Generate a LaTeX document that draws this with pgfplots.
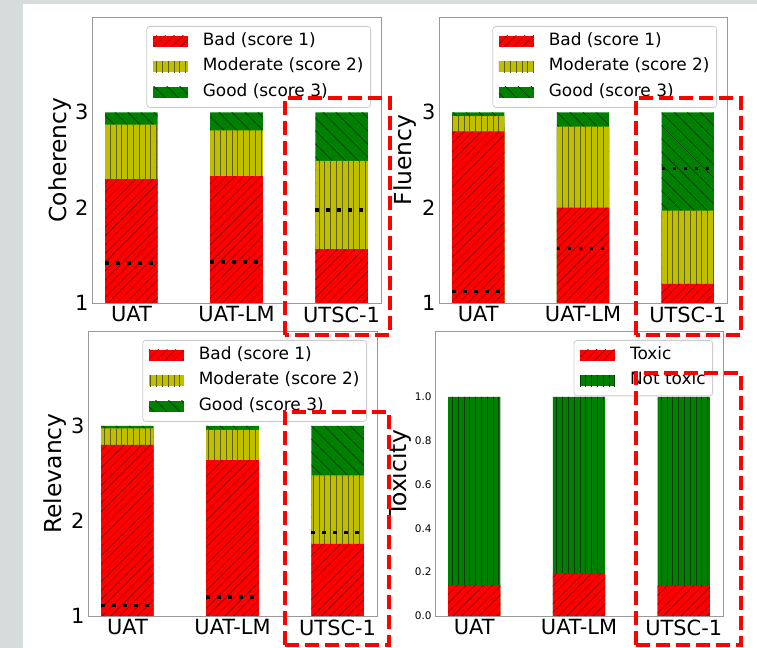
\documentclass[border=0pt]{standalone}
\usepackage{fontspec}
\setmainfont{DejaVu Sans}
\usepackage{pgfplots}
\pgfplotsset{compat=1.18}
\usetikzlibrary{patterns.meta}

\definecolor{bgg}{RGB}{214,220,220}
\definecolor{mred}{RGB}{255,0,0}
\definecolor{myel}{RGB}{191,191,0}
\definecolor{mgreen}{RGB}{0,128,0}

\tikzset{
 hred/.style={fill=mred, postaction={pattern={Lines[angle=45,distance=6.2bp,line width=0.6bp]}, pattern color=mred!55!black}},
 hyel/.style={fill=myel, postaction={pattern={Lines[angle=90,distance=5.8bp,line width=0.9bp]}, pattern color=myel!50!black}},
 hgreen/.style={fill=mgreen, postaction={pattern={Lines[angle=-45,distance=9.2bp,line width=0.7bp]}, pattern color=mgreen!45!black}},
 hgreenv/.style={fill=mgreen, postaction={pattern={Lines[angle=90,distance=5.8bp,line width=0.9bp]}, pattern color=mgreen!45!black}},
}

\pgfplotsset{
 bars/.style={ybar, bar width=0.5, bar shift=0pt, draw=none},
 limg/.style={legend image code/.code={\fill[##1,draw=none,sharp corners,fill opacity=1] (0bp,-5.5bp) rectangle (35bp,5.5bp);}},
 dotl/.style={forget plot, no marks, sharp plot, black, line width=3.6bp, dash pattern=on 3.6bp off 7.4bp},
 myleg/.style={legend style={at={(1,1)}, anchor=north east, xshift=-10bp, yshift=-9bp,
   draw=black!20, line width=0.8bp, rounded corners=3bp, fill=white, fill opacity=0.8, text opacity=1,
   font=\fontsize{17}{20}\selectfont, inner xsep=6bp, inner ysep=5.5bp, row sep=6.5bp,
   nodes={inner sep=1bp, text depth=4.5bp, text height=12.5bp},
   /tikz/every odd column/.append style={column sep=14bp}},
   legend cell align=left, reverse legend},
 common/.style={scale only axis, xmin=-0.375, xmax=2.375, xtick={0,1,2},
   xticklabels={UAT,UAT-LM,UTSC-1}, tick style={draw=none}, major tick length=0pt,
   axis line style={black!40, line width=0.8bp},
   tick label style={font=\fontsize{21}{24}\selectfont},
   /pgf/number format/assume math mode=true,
   ylabel style={font=\fontsize{23.5}{28}\selectfont},
   axis on top, myleg},
 score/.style={common, ymin=1, ymax=4, ytick={1,2,3}},
}

\begin{document}
\begin{tikzpicture}[x=1bp,y=1bp]
\fill[bgg] (0,0) rectangle (757,648);
\fill[white] (23,0) rectangle (757,644);
\useasboundingbox (0,0) rectangle (757,648);

% Coherency
\begin{axis}[score, at={(92bp,345bp)}, anchor=south west, width=289bp, height=286bp,
  ylabel={Coherency}, ylabel style={at={(axis description cs:-0.112,0.5)}, anchor=center}]
\addplot[bars,hgreen,limg] coordinates {(0,3) (1,3) (2,3)}; \addlegendentry{Good (score 3)}
\addplot[bars,hyel,limg] coordinates {(0,2.87) (1,2.81) (2,2.49)}; \addlegendentry{Moderate (score 2)}
\addplot[bars,hred,limg] coordinates {(0,2.30) (1,2.33) (2,1.565)}; \addlegendentry{Bad (score 1)}
\addplot[dotl] coordinates {(-0.25,1.42) (0.25,1.42)};
\addplot[dotl] coordinates {(0.75,1.43) (1.25,1.43)};
\addplot[dotl] coordinates {(1.75,1.975) (2.25,1.975)};
\end{axis}

% Fluency
\begin{axis}[score, at={(439bp,345bp)}, anchor=south west, width=288bp, height=286bp,
  ylabel={Fluency}, ylabel style={at={(axis description cs:-0.118,0.5)}, anchor=center}]
\addplot[bars,hgreen,limg] coordinates {(0,3) (1,3) (2,3)}; \addlegendentry{Good (score 3)}
\addplot[bars,hyel,limg] coordinates {(0,2.96) (1,2.85) (2,1.97)}; \addlegendentry{Moderate (score 2)}
\addplot[bars,hred,limg] coordinates {(0,2.80) (1,2.00) (2,1.20)}; \addlegendentry{Bad (score 1)}
\addplot[dotl] coordinates {(-0.25,1.12) (0.25,1.12)};
\addplot[dotl] coordinates {(0.75,1.57) (1.25,1.57)};
\addplot[dotl] coordinates {(1.75,2.41) (2.25,2.41)};
\end{axis}

% Relevancy
\begin{axis}[score, at={(88bp,32bp)}, anchor=south west, width=289bp, height=285bp,
  ylabel={Relevancy}, ylabel style={at={(axis description cs:-0.113,0.5)}, anchor=center}]
\addplot[bars,hgreen,limg] coordinates {(0,3) (1,3) (2,3)}; \addlegendentry{Good (score 3)}
\addplot[bars,hyel,limg] coordinates {(0,2.976) (1,2.96) (2,2.48)}; \addlegendentry{Moderate (score 2)}
\addplot[bars,hred,limg] coordinates {(0,2.80) (1,2.64) (2,1.76)}; \addlegendentry{Bad (score 1)}
\addplot[dotl] coordinates {(-0.25,1.11) (0.25,1.11)};
\addplot[dotl] coordinates {(0.75,1.20) (1.25,1.20)};
\addplot[dotl] coordinates {(1.75,1.88) (2.25,1.88)};
\end{axis}

% Toxicity
\begin{axis}[common, at={(435bp,32bp)}, anchor=south west, width=288bp, height=285bp,
  ymin=0, ymax=1.3, ytick={0,0.2,0.4,0.6,0.8,1.0},
  yticklabel style={font=\fontsize{10.5}{12}\selectfont, /pgf/number format/.cd, fixed, fixed zerofill, precision=1},
  ylabel={Toxicity}, ylabel style={at={(axis description cs:-0.122,0.5)}, anchor=center}]
\addplot[bars,hgreenv,limg] coordinates {(0,1) (1,1) (2,1)}; \addlegendentry{Not toxic}
\addplot[bars,hred,limg] coordinates {(0,0.141) (1,0.194) (2,0.138)}; \addlegendentry{Toxic}
\end{axis}

% highlight boxes
\begin{scope}[red, line width=4.5bp, dash pattern=on 14bp off 6bp]
\draw (285,313) rectangle (390,550);
\draw (636,313) rectangle (741,550);
\draw (285,3) rectangle (389,236);
\draw (636,3) rectangle (741,275);
\end{scope}
\end{tikzpicture}
\end{document}
